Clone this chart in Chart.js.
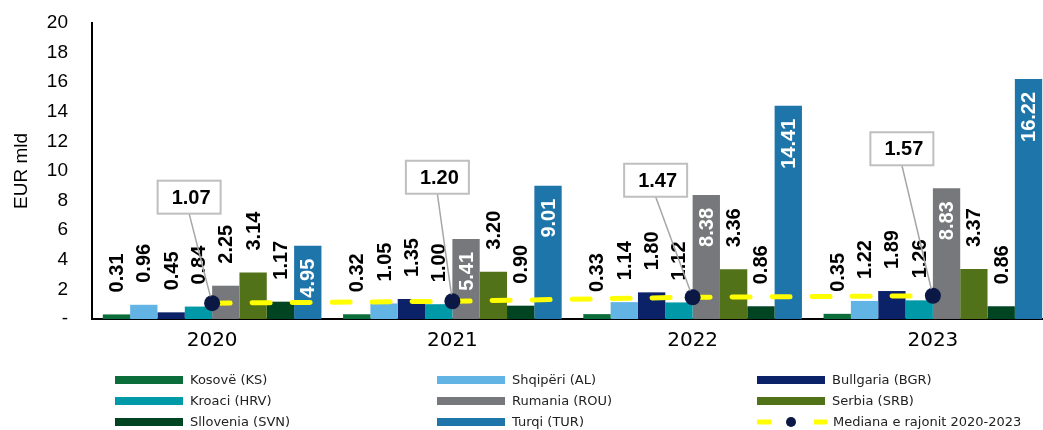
<!DOCTYPE html>
<html>
<head>
<meta charset="utf-8">
<script src="https://cdn.jsdelivr.net/npm/chart.js@4.4.1/dist/chart.umd.min.js"></script>
<style>
  body { margin: 0; overflow: hidden; background: #fff; }
  #wrap { position: relative; width: 1043px; height: 430px; overflow: hidden; }
  #c { position: absolute; left: 0; top: 0; }
  #legend { position: absolute; left: 0; top: 0; width: 1043px; height: 430px; font-family: 'DejaVu Sans', Verdana, sans-serif; font-size: 13px; color: #222; pointer-events: none; }
  .item { position: absolute; height: 21px; display: flex; align-items: center; white-space: nowrap; }
  .sw { width: 68px; height: 8px; margin-right: 7px; }
  .item svg { margin-right: 6px; }
</style>
</head>
<body>
<div id="wrap">
  <canvas id="c" width="1053" height="363"></canvas>
  <div id="legend"></div>
</div>
<script>
// data
const years = ['2020', '2021', '2022', '2023'];
const kosove    = [0.31, 0.32, 0.33, 0.35];
const shqiperi  = [0.96, 1.05, 1.14, 1.22];
const bullgaria = [0.45, 1.35, 1.80, 1.89];
const kroaci    = [0.84, 1.00, 1.12, 1.26];
const rumania   = [2.25, 5.41, 8.38, 8.83];
const serbia    = [3.14, 3.20, 3.36, 3.37];
const sllovenia = [1.17, 0.90, 0.86, 0.86];
const turqi     = [4.95, 9.01, 14.41, 16.22];
const mediana   = [1.07, 1.20, 1.47, 1.57];

const yTicks = [0, 2, 4, 6, 8, 10, 12, 14, 16, 18, 20];

const names = ['Kosovë (KS)', 'Shqipëri (AL)', 'Bullgaria (BGR)', 'Kroaci (HRV)', 'Rumania (ROU)',
               'Serbia (SRB)', 'Sllovenia (SVN)', 'Turqi (TUR)'];
const values = [kosove, shqiperi, bullgaria, kroaci, rumania, serbia, sllovenia, turqi];
const colors = ['#0B6E3A', '#62B4E4', '#0B2268', '#0099A8', '#76787B', '#52721A', '#014421', '#1E75AA'];

const barSets = names.map((n, i) => ({
  type: 'bar',
  label: n,
  data: values[i],
  backgroundColor: colors[i],
  borderWidth: 0,
  order: 1,
  categoryPercentage: 0.91,
  barPercentage: 1.0
}));

const medianSet = {
  type: 'line',
  label: 'Mediana e rajonit 2020-2023',
  data: mediana,
  borderColor: '#FFFF00',
  borderWidth: 5,
  borderDash: [18, 22],
  borderCapStyle: 'round',
  pointRadius: 8,
  pointBackgroundColor: '#0B1845',
  pointBorderWidth: 0,
  tension: 0,
  order: 0
};

// rotated value labels on bars
const barLabels = {
  id: 'barLabels',
  afterDatasetsDraw(chart) {
    const ctx = chart.ctx;
    ctx.save();
    ctx.font = 'bold 20px "Liberation Sans", Arial, sans-serif';
    ctx.textBaseline = 'middle';
    chart.data.datasets.forEach((ds, i) => {
      if (ds.type !== 'bar') return;
      chart.getDatasetMeta(i).data.forEach((bar, j) => {
        const v = ds.data[j];
        const inside = v > 4;
        ctx.save();
        ctx.translate(bar.x, bar.y);
        ctx.rotate(-Math.PI / 2);
        ctx.fillStyle = inside ? '#fff' : '#000';
        ctx.textAlign = inside ? 'right' : 'left';
        ctx.fillText(v.toFixed(2), inside ? -13 : 22, 1);
        ctx.restore();
      });
    });
    ctx.restore();
  }
};

// boxed median callouts with leader lines
const callouts = {
  id: 'callouts',
  afterDraw(chart, args, opts) {
    const ctx = chart.ctx;
    const idx = chart.data.datasets.findIndex(d => d.type === 'line');
    const ds = chart.data.datasets[idx];
    const w = 63, h = 33;
    ctx.save();
    chart.getDatasetMeta(idx).data.forEach((pt, j) => {
      const [dx, dy] = opts.offsets[j];
      const cx = pt.x + dx, cy = pt.y + dy;
      const bx = cx, by = cy + h / 2;
      const a = Math.atan2(pt.y - by, pt.x - bx);
      ctx.strokeStyle = '#A6A6A6';
      ctx.lineWidth = 1.5;
      ctx.beginPath();
      ctx.moveTo(bx, by);
      ctx.lineTo(pt.x - 7 * Math.cos(a), pt.y - 7 * Math.sin(a));
      ctx.stroke();
      ctx.fillStyle = '#fff';
      ctx.fillRect(cx - w / 2, cy - h / 2, w, h);
      ctx.strokeStyle = '#BFBFBF';
      ctx.lineWidth = 2;
      ctx.strokeRect(cx - w / 2, cy - h / 2, w, h);
      ctx.fillStyle = '#000';
      ctx.font = 'bold 20px "Liberation Sans", Arial, sans-serif';
      ctx.textAlign = 'center';
      ctx.textBaseline = 'middle';
      ctx.fillText(ds.data[j].toFixed(2), cx + 2, cy + 1);
    });
    ctx.restore();
  }
};

const chart = new Chart(document.getElementById('c'), {
  data: { labels: years, datasets: [...barSets, medianSet] },
  plugins: [barLabels, callouts],
  options: {
    responsive: false,
    animation: false,
    devicePixelRatio: 1,
    layout: { autoPadding: false, padding: { top: 23, right: 0, bottom: 0, left: 0 } },
    plugins: {
      legend: { display: false },
      tooltip: { enabled: false },
      callouts: { offsets: [[-23, -106], [-15, -124], [-37, -117], [-31, -147]] }
    },
    scales: {
      x: {
        afterFit: s => { s.paddingLeft = 0; s.paddingRight = 0; },
        grid: { display: false, drawTicks: false },
        border: { color: '#000', width: 2 },
        ticks: { color: '#000', padding: 10, font: { family: "'DejaVu Sans', Verdana, sans-serif", size: 20 } }
      },
      y: {
        min: 0,
        max: 20,
        afterBuildTicks: s => { s.ticks = yTicks.map(v => ({ value: v })); },
        afterFit: s => { s.width = 92; s.paddingTop = 0; s.paddingBottom = 0; },
        grid: { display: false, drawTicks: false },
        border: { color: '#000', width: 2 },
        ticks: {
          color: '#000',
          padding: 24,
          font: { family: "'Liberation Sans', Arial, sans-serif", size: 19 },
          callback: v => v === 0 ? '-' : v
        },
        title: {
          display: true,
          text: 'EUR mld',
          color: '#000',
          padding: { top: 10, bottom: 0 },
          font: { family: "'Liberation Sans', Arial, sans-serif", size: 19 }
        }
      }
    }
  }
});

// html legend, three columns
const legend = document.getElementById('legend');
const colX = [115, 437, 757];
const rowY = [369, 390, 411];
chart.data.datasets.forEach((ds, i) => {
  const el = document.createElement('div');
  el.className = 'item';
  el.style.left = colX[i % 3] + 'px';
  el.style.top = rowY[Math.floor(i / 3)] + 'px';
  if (ds.type === 'line') {
    el.innerHTML = '<svg width="70" height="14"><line x1="0" y1="7" x2="14" y2="7" stroke="#FFFF00" stroke-width="5"/>' +
      '<circle cx="34" cy="7" r="5" fill="#0B1845"/><line x1="57" y1="7" x2="70" y2="7" stroke="#FFFF00" stroke-width="5"/></svg>';
  } else {
    const sw = document.createElement('span');
    sw.className = 'sw';
    sw.style.background = ds.backgroundColor;
    el.appendChild(sw);
  }
  el.appendChild(document.createTextNode(ds.label));
  legend.appendChild(el);
});
</script>
</body>
</html>
